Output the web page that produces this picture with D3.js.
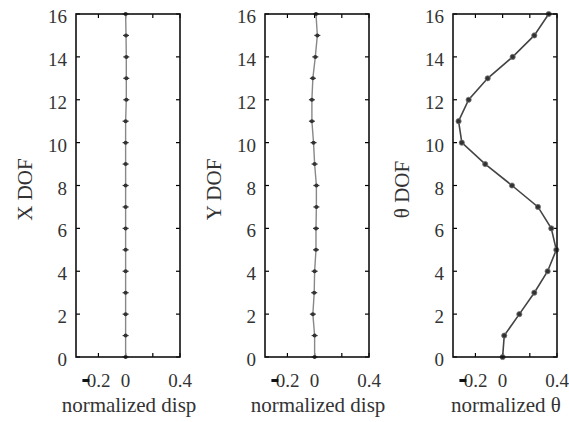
<!DOCTYPE html>
<html><head><meta charset="utf-8">
<script src="https://cdn.jsdelivr.net/npm/d3@7"></script>
<style>
#c text { font-family: "Times New Roman", "Liberation Serif", Tinos, serif !important; }
</style>
</head><body style="margin:0">
<svg id="c" width="569" height="422"></svg>
<script>
const dof = [0,1,2,3,4,5,6,7,8,9,10,11,12,13,14,15,16];
const xDisp = [0,0,0,0,0,0,0,0,0,0,0,0,0.005,0.005,0.005,0.003,0];
const yDisp = [0,0,-0.013,-0.003,0,0.01,0.01,0.013,0.013,0,-0.008,-0.02,-0.02,-0.013,0.005,0.02,0.01];
const thetaDisp = [0,0.012,0.123,0.233,0.331,0.395,0.358,0.26,0.069,-0.128,-0.3,-0.324,-0.25,-0.11,0.074,0.233,0.339];
const xTicks = [-0.2,0,0.2,0.4];
const xTickLabels = ["−0.2","0","","0.4"];
const yTicks = [0,2,4,6,8,10,12,14,16];
const panels = [
  {ylabel:"X DOF", xlabel:"normalized disp", values:xDisp, left:76, style:"light"},
  {ylabel:"Y DOF", xlabel:"normalized disp", values:yDisp, left:265, style:"light"},
  {ylabel:"θ DOF", xlabel:"normalized θ", values:thetaDisp, left:453, style:"dark"}
];
const svg = d3.select("#c").style("display","block");
const plotTop = 14, plotBottom = 357, w = 104;
function txt(x, y, s, size) {
  return svg.append("text").attr("x",x).attr("y",y)
    .style("font-family",'"Times New Roman", "Liberation Serif", serif', "important")
    .style("font-size",size+"px").attr("fill","#333").text(s);
}
panels.forEach(p => {
  const x = d3.scaleLinear().domain([-0.365,0.4]).range([p.left, p.left+w]);
  const y = d3.scaleLinear().domain([0,16]).range([plotBottom, plotTop]);
  const tl = 4;
  xTicks.forEach(t => {
    svg.append("line").attr("x1",x(t)).attr("x2",x(t)).attr("y1",plotBottom).attr("y2",plotBottom-tl).attr("stroke","#000").attr("stroke-width",1.2);
    svg.append("line").attr("x1",x(t)).attr("x2",x(t)).attr("y1",plotTop).attr("y2",plotTop+tl).attr("stroke","#000").attr("stroke-width",1.2);
  });
  yTicks.forEach(t => {
    svg.append("line").attr("x1",p.left).attr("x2",p.left+tl).attr("y1",y(t)).attr("y2",y(t)).attr("stroke","#000").attr("stroke-width",1.2);
    svg.append("line").attr("x1",p.left+w).attr("x2",p.left+w-tl).attr("y1",y(t)).attr("y2",y(t)).attr("stroke","#000").attr("stroke-width",1.2);
    txt(p.left-9, y(t)+9, String(t), 19).attr("text-anchor","end");
  });
  xTicks.forEach((t,i) => {
    const s = xTickLabels[i];
    if(!s) return;
    if (s.startsWith("−")) {
      txt(x(t)+12, 387, s.slice(1), 19).attr("text-anchor","end");
      svg.append("rect").attr("x",x(t)-16).attr("y",379).attr("width",7).attr("height",3).attr("fill","#111");
    } else txt(x(t), 387, s, 19).attr("text-anchor","middle");
  });
  const line = d3.line().x((d,i)=>x(p.values[i])).y(d=>y(d));
  const col = p.style==="dark" ? "#444" : "#888";
  svg.append("path").datum(dof).attr("d",line).attr("fill","none").attr("stroke",col).attr("stroke-width",p.style==="dark"?1.6:1.4);
  dof.forEach((d,i) => {
    const cx = x(p.values[i]), cy = y(d);
    if (p.style==="light") {
      svg.append("line").attr("x1",cx-3).attr("x2",cx+3).attr("y1",cy).attr("y2",cy).attr("stroke","#333").attr("stroke-width",1.2);
      svg.append("circle").attr("cx",cx).attr("cy",cy).attr("r",2).attr("fill","#333");
    } else {
      svg.append("circle").attr("cx",cx).attr("cy",cy).attr("r",2.6).attr("fill","#333").attr("stroke","#777").attr("stroke-width",0.8);
    }
  });
  svg.append("rect").attr("x",p.left).attr("y",plotTop).attr("width",w).attr("height",plotBottom-plotTop)
    .attr("fill","none").attr("stroke","#111").attr("stroke-width",1.6);
  txt(0, 0, p.ylabel, 21).attr("text-anchor","middle").attr("dy","0.35em")
    .attr("transform",`translate(${p.left-51},${(plotTop+plotBottom)/2+4}) rotate(-90)`);
  txt(p.left+w/2+1, 412, p.xlabel, 21).attr("text-anchor","middle");
});
</script>
</body></html>
